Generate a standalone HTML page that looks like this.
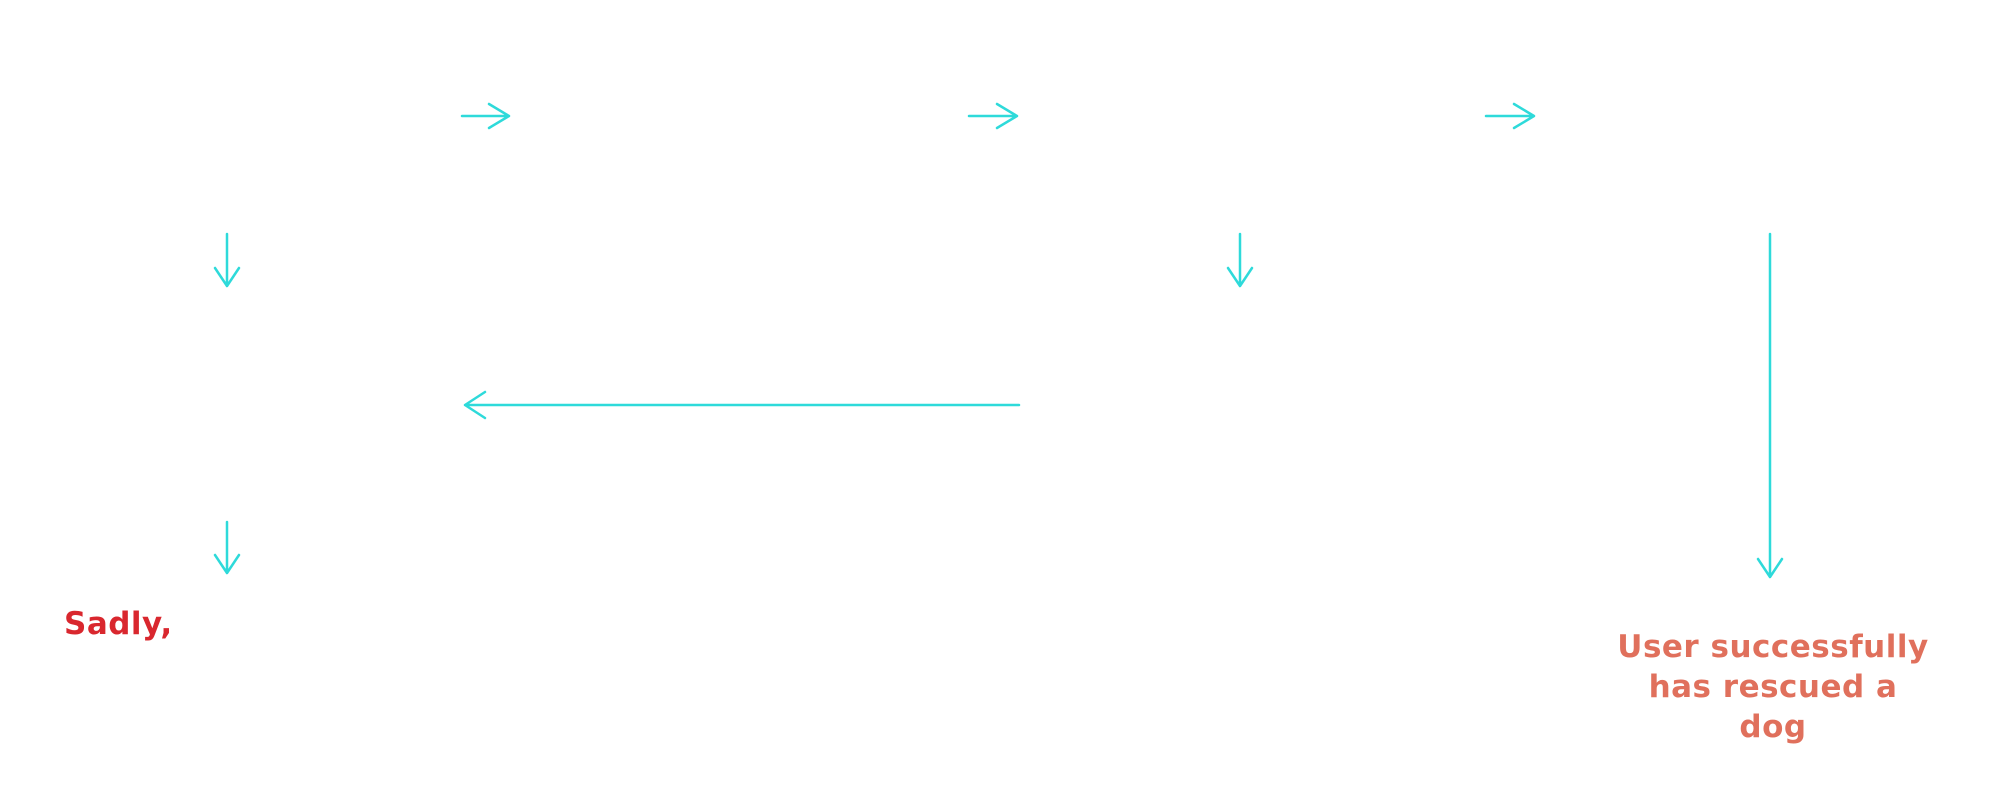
<!DOCTYPE html>
<html><head><style>
html,body{margin:0;padding:0;background:#fff;}
body{width:2000px;height:811px;position:relative;overflow:hidden;font-family:"DejaVu Sans","Liberation Sans",sans-serif;}
.t{position:absolute;font-weight:bold;font-size:31px;line-height:40px;letter-spacing:0.5px;white-space:nowrap;}
</style></head><body>
<svg width="2000" height="811" style="position:absolute;left:0;top:0" fill="none" stroke="#2edada" stroke-width="2.5" stroke-linecap="round" stroke-linejoin="round">
<path d="M462 116H509M489 104L509 116L489 128"/>
<path d="M969 116H1017M997 104L1017 116L997 128"/>
<path d="M1486 116H1534M1514 104L1534 116L1514 128"/>
<path d="M227 234V286M215 268L227 286L239 268"/>
<path d="M1240 234V286M1228 268L1240 286L1252 268"/>
<path d="M1770 234V577M1758 559L1770 577L1782 559"/>
<path d="M1019 405H465M485 392L465 405L485 418"/>
<path d="M227 522V573M215 555L227 573L239 555"/>
</svg>
<div class="t" style="left:64px;top:604px;color:#d9272e;">Sadly,</div>
<div class="t" style="left:1573px;top:627px;width:400px;text-align:center;color:#e0705c;">User successfully<br>has rescued a<br>dog</div>
</body></html>
